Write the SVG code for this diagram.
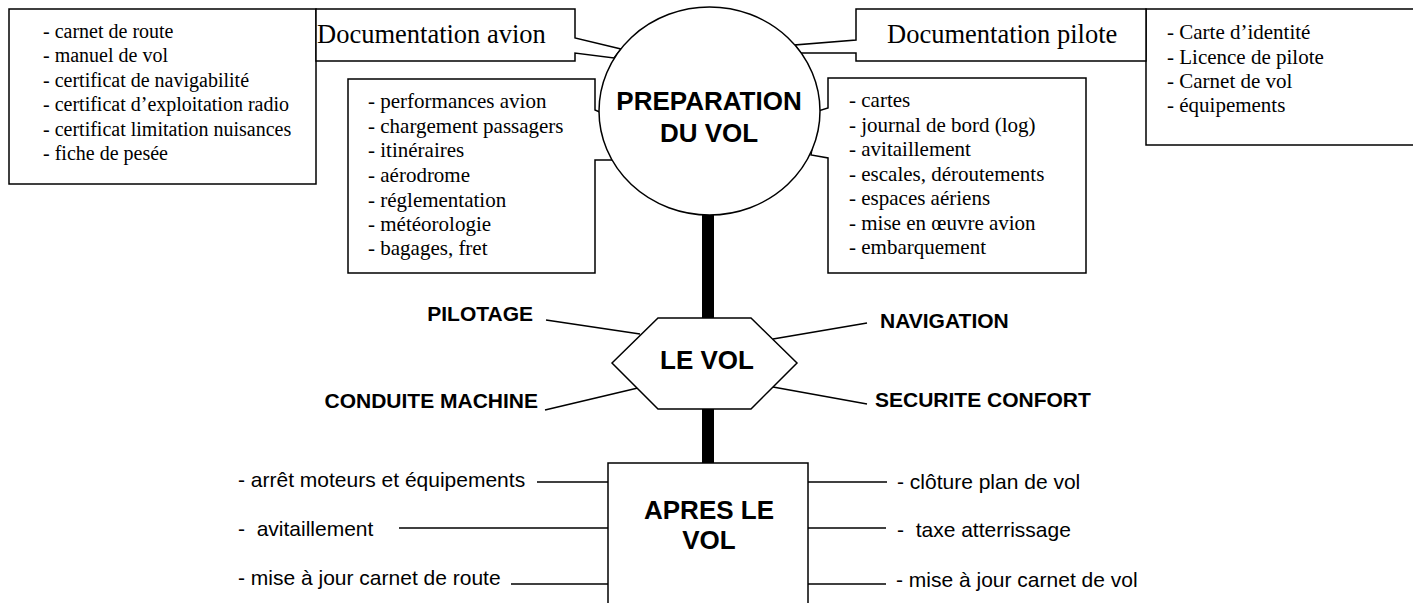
<svg xmlns="http://www.w3.org/2000/svg" width="1413" height="603" viewBox="0 0 1413 603">
<style>
.box{fill:#fff;stroke:#000;stroke-width:1.5}
.ln{fill:none;stroke:#000;stroke-width:1.5}
.bar{fill:#000}
.tr{font-family:"Liberation Serif","Times New Roman",serif;fill:#000}
.s20{font-size:20px}
.s21{font-size:21px}
.s26{font-size:26.5px}
.ar{font-family:"Liberation Sans",Arial,sans-serif;font-size:21px;fill:#000}
.ab{font-family:"Liberation Sans",Arial,sans-serif;font-weight:bold;fill:#000}
.t26{font-size:26px}
.t21{font-size:21px}
</style>
<rect width="1413" height="603" fill="#fff"/>

<g id="connectors">
  <rect class="bar" x="702" y="213" width="12" height="107"/>
  <rect class="bar" x="702" y="407" width="12" height="58"/>
  <line class="ln" x1="546" y1="320" x2="640" y2="334"/>
  <line class="ln" x1="545" y1="410" x2="642" y2="387"/>
  <line class="ln" x1="773" y1="339" x2="867" y2="323"/>
  <line class="ln" x1="773" y1="387" x2="867" y2="404"/>
  <line class="ln" x1="537" y1="482" x2="608" y2="482"/>
  <line class="ln" x1="399" y1="528" x2="608" y2="528"/>
  <line class="ln" x1="511" y1="584" x2="608" y2="584"/>
  <line class="ln" x1="808" y1="482" x2="887" y2="482"/>
  <line class="ln" x1="808" y1="528" x2="886" y2="528"/>
  <line class="ln" x1="808" y1="584" x2="886" y2="584"/>
</g>

<g id="doc-avion-list">
  <rect class="box" x="9" y="9" width="307" height="175"/>
  <text class="tr s20" x="43" y="38">- carnet de route</text>
  <text class="tr s20" x="43" y="62">- manuel de vol</text>
  <text class="tr s20" x="43" y="87">- certificat de navigabilité</text>
  <text class="tr s20" x="43" y="111">- certificat d’exploitation radio</text>
  <text class="tr s20" x="43" y="136">- certificat limitation nuisances</text>
  <text class="tr s20" x="43" y="160">- fiche de pesée</text>
</g>

<g id="doc-pilote-list">
  <rect class="box" x="1146" y="9" width="280" height="136"/>
  <text class="tr s21" x="1167" y="39">- Carte d’identité</text>
  <text class="tr s21" x="1167" y="64">- Licence de pilote</text>
  <text class="tr s21" x="1167" y="88">- Carnet de vol</text>
  <text class="tr s21" x="1167" y="112">- équipements</text>
</g>

<g id="doc-avion">
  <path class="box" d="M316,9 H575 V38 L621,49 L614,58 L575,53 V61 H316 Z"/>
  <text class="tr s26" x="317" y="43">Documentation avion</text>
</g>

<g id="doc-pilote">
  <path class="box" d="M856,9 H1146 V61 H856 V53 L801,53 L795,45 L856,40 Z"/>
  <text class="tr s26" x="887" y="43">Documentation pilote</text>
</g>

<g id="prep-left">
  <path class="box" d="M348,79 H595 V110 L602,113 L614,160 L595,160 V273 H348 Z"/>
  <text class="tr s21" x="368" y="108">- performances avion</text>
  <text class="tr s21" x="368" y="133">- chargement passagers</text>
  <text class="tr s21" x="368" y="157">- itinéraires</text>
  <text class="tr s21" x="368" y="182">- aérodrome</text>
  <text class="tr s21" x="368" y="207">- réglementation</text>
  <text class="tr s21" x="368" y="231">- météorologie</text>
  <text class="tr s21" x="368" y="255">- bagages, fret</text>
</g>

<g id="prep-right">
  <path class="box" d="M828,78 H1086 V273 H828 V158 L811,155 L818,111 L828,108 Z"/>
  <text class="tr s21" x="849" y="107">- cartes</text>
  <text class="tr s21" x="849" y="132">- journal de bord (log)</text>
  <text class="tr s21" x="849" y="156">- avitaillement</text>
  <text class="tr s21" x="849" y="181">- escales, déroutements</text>
  <text class="tr s21" x="849" y="205">- espaces aériens</text>
  <text class="tr s21" x="849" y="230">- mise en œuvre avion</text>
  <text class="tr s21" x="849" y="254">- embarquement</text>
</g>

<g id="preparation">
  <ellipse class="box" cx="709.5" cy="111" rx="110.5" ry="104"/>
  <text class="ab t26" x="709" y="110" text-anchor="middle">PREPARATION</text>
  <text class="ab t26" x="709" y="142" text-anchor="middle">DU VOL</text>
</g>

<g id="le-vol">
  <polygon class="box" points="612,363 658,318 751,318 797,363 751,409 658,409"/>
  <text class="ab t26" x="707" y="369" text-anchor="middle">LE VOL</text>
</g>

<g id="labels-vol">
  <text class="ab t21" x="533" y="321" text-anchor="end">PILOTAGE</text>
  <text class="ab t21" x="538" y="408" text-anchor="end">CONDUITE MACHINE</text>
  <text class="ab t21" x="880" y="328">NAVIGATION</text>
  <text class="ab t21" x="875" y="407">SECURITE CONFORT</text>
</g>

<g id="apres">
  <rect class="box" x="608" y="463" width="200" height="150"/>
  <text class="ab t26" x="709" y="519" text-anchor="middle">APRES LE</text>
  <text class="ab t26" x="709" y="549" text-anchor="middle">VOL</text>
</g>

<g id="apres-items">
  <text class="ar" x="238" y="487">- arrêt moteurs et équipements</text>
  <text class="ar" x="238" y="536" xml:space="preserve">-  avitaillement</text>
  <text class="ar" x="238" y="585">- mise à jour carnet de route</text>
  <text class="ar" x="897" y="489">- clôture plan de vol</text>
  <text class="ar" x="897" y="537" xml:space="preserve">-  taxe atterrissage</text>
  <text class="ar" x="896" y="587">- mise à jour carnet de vol</text>
</g>
</svg>
